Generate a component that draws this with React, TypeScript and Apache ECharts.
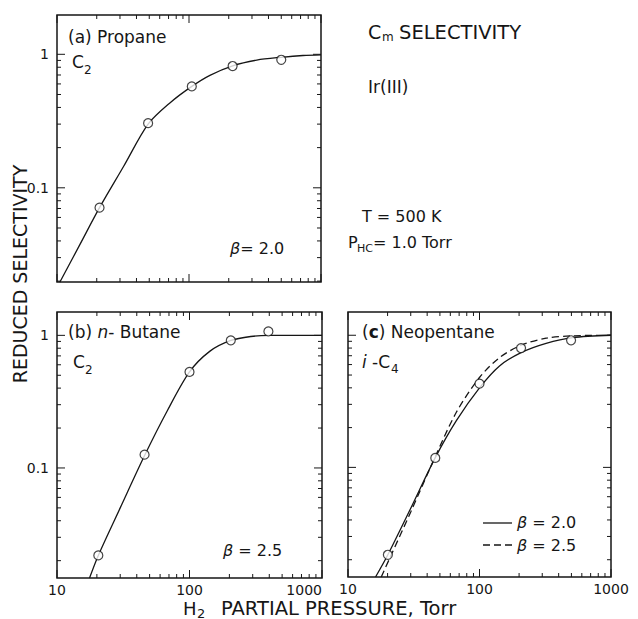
import { useEffect, useRef } from 'react';
import * as echarts from 'echarts';

// ---------- data ----------
const xTickValues = [10, 20, 30, 40, 50, 60, 70, 80, 90, 100, 200, 300, 400, 500, 600, 700, 800, 900, 1000];
const yTickValues = [0.02, 0.03, 0.04, 0.05, 0.06, 0.07, 0.08, 0.09, 0.1, 0.2, 0.3, 0.4, 0.5, 0.6, 0.7, 0.8, 0.9, 1];

// (a) Propane, C2, beta = 2.0
const propaneCurve = [
  [10.5, 0.0196], [15, 0.038], [21, 0.071], [32, 0.145], [49, 0.3], [72, 0.434], [105, 0.575],
  [144, 0.696], [214, 0.82], [326, 0.905], [500, 0.95], [730, 0.98], [1000, 0.99],
];
const propanePoints = [[21, 0.071], [49, 0.305], [105, 0.575], [214, 0.817], [500, 0.91]];

// (b) n-Butane, C2, beta = 2.5
const butaneCurve = [
  [17.6, 0.0148], [20.5, 0.0219], [30, 0.05], [45.8, 0.124], [68, 0.27], [100, 0.53], [142, 0.757],
  [205, 0.915], [290, 0.98], [400, 0.998], [1000, 1.0],
];
const butanePoints = [[20.5, 0.0219], [45.8, 0.126], [100, 0.53], [205, 0.917], [394, 1.07]];

// (c) Neopentane, i-C4
const neoCurveB20 = [
  [16.2, 0.0148], [20.1, 0.0218], [30, 0.049], [46, 0.118], [66.5, 0.225], [100, 0.4], [142, 0.586],
  [207, 0.74], [321, 0.87], [510, 0.96], [1000, 1.0],
];
const neoCurveB25 = [
  [17.9, 0.0148], [20.7, 0.0204], [30, 0.046], [46, 0.12], [66.5, 0.26], [100, 0.479], [142, 0.677],
  [207, 0.84], [321, 0.95], [510, 0.99], [1000, 1.0],
];
const neoPoints = [[20.1, 0.0218], [46.1, 0.118], [100, 0.43], [207, 0.8], [497, 0.916]];

const xRange = [10, 1000];
const yRangeA = [0.0197, 1.97];
const yRangeBC = [0.0148, 1.5];

// ---------- style ----------
const FONT = 'DejaVu Sans';
const INK = '#161616';

function isDecade(v: number) {
  const l = Math.log10(v);
  return Math.abs(l - Math.round(l)) < 1e-6;
}

function tickSeries(gridIndex: number, values: number[], dir: 'x' | 'y') {
  return {
    type: 'custom',
    xAxisIndex: gridIndex,
    yAxisIndex: gridIndex,
    silent: true,
    clip: false,
    z: 5,
    data: values.map((v) => (dir === 'x' ? [v, 0.5] : [100, v])),
    renderItem: (params: any, api: any) => {
      const cs = params.coordSys;
      const vx = api.value(0);
      const vy = api.value(1);
      const len = isDecade(dir === 'x' ? vx : vy) ? 8 : 4;
      const pt = api.coord([vx, vy]);
      const style = { stroke: INK, lineWidth: 1 };
      if (dir === 'x') {
        const x = pt[0];
        const b = cs.y + cs.height;
        const t = cs.y;
        return {
          type: 'group',
          children: [
            { type: 'line', shape: { x1: x, y1: b, x2: x, y2: b - len }, style },
            { type: 'line', shape: { x1: x, y1: t, x2: x, y2: t + len }, style },
          ],
        };
      }
      const y = pt[1];
      const l = cs.x;
      const r = cs.x + cs.width;
      return {
        type: 'group',
        children: [
          { type: 'line', shape: { x1: l, y1: y, x2: l + len, y2: y }, style },
          { type: 'line', shape: { x1: r, y1: y, x2: r - len, y2: y }, style },
        ],
      };
    },
  };
}

function xAxisDef(gridIndex: number, showLabels: boolean, alignMax?: string) {
  return {
    type: 'log',
    logBase: 10,
    gridIndex,
    min: xRange[0],
    max: xRange[1],
    axisLine: { show: false },
    axisTick: { show: false },
    splitLine: { show: false },
    minorTick: { show: false },
    axisLabel: {
      show: showLabels,
      color: INK,
      fontFamily: FONT,
      fontSize: 14,
      margin: 5,
      alignMaxLabel: alignMax,
      formatter: (v: number) => (isDecade(v) ? String(Math.round(v)) : ''),
    },
  };
}

function yAxisDef(gridIndex: number, range: number[], showLabels: boolean) {
  return {
    type: 'log',
    logBase: 10,
    gridIndex,
    min: range[0],
    max: range[1],
    axisLine: { show: false },
    axisTick: { show: false },
    splitLine: { show: false },
    minorTick: { show: false },
    axisLabel: {
      show: showLabels,
      color: INK,
      fontFamily: FONT,
      fontSize: 14,
      margin: 8,
      formatter: (v: number) =>
        Math.abs(v - 1) < 1e-6 ? '1' : Math.abs(v - 0.1) < 1e-7 ? '0.1' : '',
    },
  };
}

function curve(gridIndex: number, data: number[][], dash?: number[]) {
  return {
    type: 'line',
    xAxisIndex: gridIndex,
    yAxisIndex: gridIndex,
    data,
    symbol: 'none',
    showSymbol: false,
    smooth: 0.3,
    silent: true,
    z: 2,
    lineStyle: { color: INK, width: 1.3, type: dash ? dash : 'solid' },
  };
}

function points(gridIndex: number, data: number[][]) {
  return {
    type: 'scatter',
    xAxisIndex: gridIndex,
    yAxisIndex: gridIndex,
    data,
    symbol: 'circle',
    symbolSize: 9,
    silent: true,
    z: 3,
    itemStyle: { color: '#ffffff', borderColor: INK, borderWidth: 1.2 },
  };
}

function txt(x: number, y: number, text: string, size: number, extra: any = {}) {
  return {
    type: 'text',
    x,
    y,
    silent: true,
    style: {
      text,
      fill: INK,
      fontFamily: FONT,
      fontSize: size,
      align: 'left',
      verticalAlign: 'middle',
      ...extra,
    },
  };
}

const italic = (size: number) => ({ fontStyle: 'italic', fontFamily: FONT, fontSize: size, fill: INK });

export default function App() {
  const ref = useRef<HTMLDivElement>(null);

  useEffect(() => {
    if (!ref.current) return;
    const chart = echarts.init(ref.current, undefined, { renderer: 'svg' });
    const gridBase = { show: true, borderColor: INK, borderWidth: 1.5, backgroundColor: 'transparent', containLabel: false, outerBoundsMode: 'none' };
    chart.setOption({
      animation: false,
      backgroundColor: '#ffffff',
      grid: [
        { ...gridBase, left: 57, top: 15, width: 264, height: 267 },
        { ...gridBase, left: 57, top: 312, width: 265, height: 266 },
        { ...gridBase, left: 348, top: 312, width: 263, height: 265 },
      ],
      xAxis: [xAxisDef(0, false), xAxisDef(1, true, 'right'), xAxisDef(2, true)],
      yAxis: [yAxisDef(0, yRangeA, true), yAxisDef(1, yRangeBC, true), yAxisDef(2, yRangeBC, false)],
      series: [
        tickSeries(0, xTickValues, 'x'),
        tickSeries(0, yTickValues, 'y'),
        tickSeries(1, xTickValues, 'x'),
        tickSeries(1, yTickValues, 'y'),
        tickSeries(2, xTickValues, 'x'),
        tickSeries(2, yTickValues, 'y'),
        curve(0, propaneCurve),
        points(0, propanePoints),
        curve(1, butaneCurve),
        points(1, butanePoints),
        curve(2, neoCurveB20),
        curve(2, neoCurveB25, [7, 4]),
        points(2, neoPoints),
      ],
      graphic: [
        // top-right annotations
        txt(368, 32, 'C', 19),
        txt(382, 37, 'm', 12),
        txt(399, 32, 'SELECTIVITY', 19.5),
        txt(368, 87, 'Ir(III)', 17),
        txt(362, 216, 'T = 500 K', 16),
        txt(348, 242, 'P', 16),
        txt(357, 248, 'HC', 11),
        txt(373, 242, '= 1.0 Torr', 16),
        // panel (a)
        txt(68, 37, '(a) Propane', 17),
        txt(72, 62, 'C', 17),
        txt(84, 70, '2', 12),
        txt(230, 248, '{i|β}= 2.0', 16, { rich: { i: italic(16) } }),
        // panel (b)
        txt(68, 332, '(b) {i|n}- Butane', 17, { rich: { i: italic(17) } }),
        txt(73, 362, 'C', 17),
        txt(85, 370, '2', 12),
        txt(223, 550, '{i|β} = 2.5', 16, { rich: { i: italic(16) } }),
        // panel (c)
        txt(362, 332, '({b|c}) Neopentane', 17, { rich: { b: { fontWeight: 'bold', fontFamily: FONT, fontSize: 17, fill: INK } } }),
        txt(362, 362, '{i|i} -C', 17, { rich: { i: italic(17) } }),
        txt(391, 369, '4', 12),
        // legend in (c)
        { type: 'line', silent: true, shape: { x1: 483, y1: 523, x2: 512, y2: 523 }, style: { stroke: INK, lineWidth: 1.3 } },
        { type: 'line', silent: true, shape: { x1: 483, y1: 545, x2: 512, y2: 545 }, style: { stroke: INK, lineWidth: 1.3, lineDash: [7, 4] } },
        txt(517, 522, '{i|β} = 2.0', 16, { rich: { i: italic(16) } }),
        txt(517, 545, '{i|β} = 2.5', 16, { rich: { i: italic(16) } }),
        // axis titles
        {
          type: 'text',
          x: 20,
          y: 274,
          rotation: Math.PI / 2,
          silent: true,
          style: { text: 'REDUCED SELECTIVITY', fill: INK, fontFamily: FONT, fontSize: 19, align: 'center', verticalAlign: 'middle' },
        },
        txt(183, 608, 'H', 18),
        txt(197, 613, '2', 13),
        txt(221, 608, 'PARTIAL PRESSURE, Torr', 19.5),
      ],
    });
    return () => chart.dispose();
  }, []);

  return (
    <div
      ref={ref}
      style={{ position: 'absolute', left: 0, top: 0, width: 638, height: 619, background: '#ffffff' }}
    />
  );
}
